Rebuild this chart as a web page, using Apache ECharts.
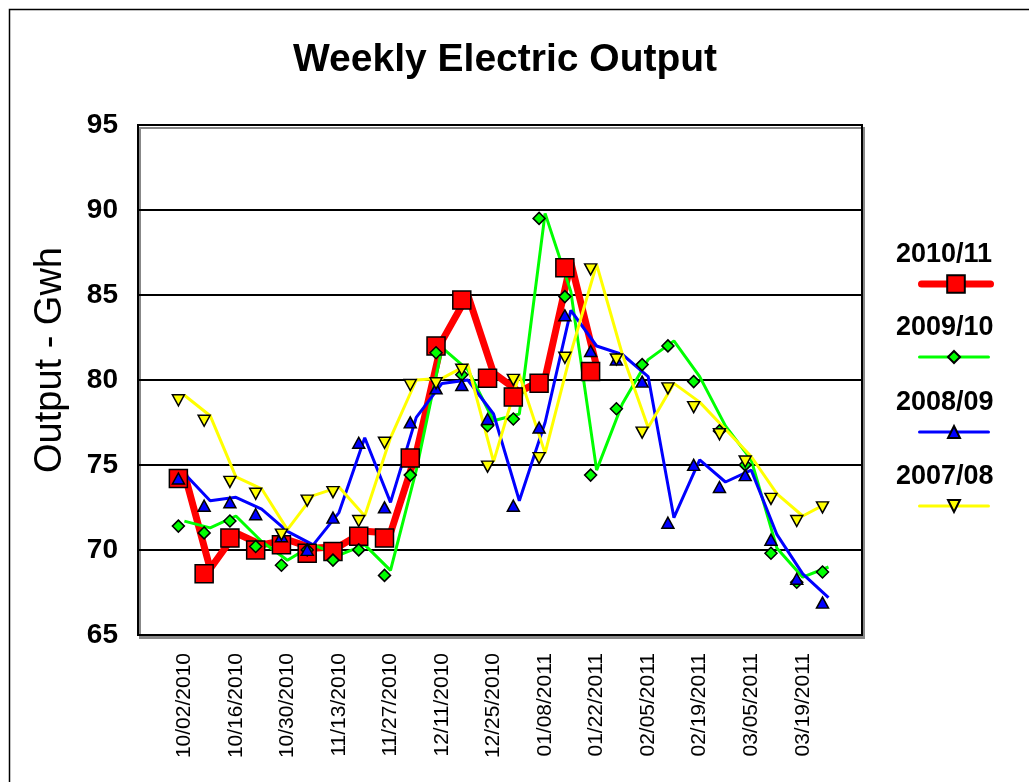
<!DOCTYPE html>
<html>
<head>
<meta charset="utf-8">
<title>Weekly Electric Output</title>
<script src="https://cdn.jsdelivr.net/npm/echarts@6/dist/echarts.min.js"></script>
<style>
	html, body { margin: 0; padding: 0; background: #fff; }
	#chart { width: 1029px; height: 782px; }
</style>
</head>
<body>
<div id="chart"></div>
<script>
	"use strict";

	// ______________ DATA
	var weeks = ['10/02/2010', '10/09/2010', '10/16/2010', '10/23/2010', '10/30/2010', '11/06/2010', '11/13/2010',
		'11/20/2010', '11/27/2010', '12/04/2010', '12/11/2010', '12/18/2010', '12/25/2010', '01/01/2011',
		'01/08/2011', '01/15/2011', '01/22/2011', '01/29/2011', '02/05/2011', '02/12/2011', '02/19/2011',
		'02/26/2011', '03/05/2011', '03/12/2011', '03/19/2011', '03/26/2011'];
	var labelWeeks = [0, 2, 4, 6, 8, 10, 12, 14, 16, 18, 20, 22, 24];

	var y2010 = [74.5, 68.9, 71.0, 70.3, 70.6, 70.1, 70.2, 71.1, 71.0, 75.7, 82.3, 85.0, 80.4, 79.3, 80.1, 86.9, 80.8,
		null, null, null, null, null, null, null, null, null];
	var y2009 = [71.7, 71.3, 72.0, 70.5, 69.4, 70.3, 69.7, 70.3, 68.8, 74.7, 81.9, 80.6, 77.6, 78.0, 89.8, 85.2, 74.7,
		78.6, 81.2, 82.3, 80.2, 77.3, 75.3, 70.1, 68.4, 69.0];
	var y2008 = [74.5, 72.9, 73.1, 72.4, 71.1, 70.3, 72.2, 76.6, 72.8, 77.8, 79.8, 80.0, 78.0, 72.9, 77.5, 84.1, 82.0,
		81.5, 80.2, 71.9, 75.3, 74.0, 74.7, 70.9, 68.6, 67.2];
	var y2007 = [79.1, 77.9, 74.3, 73.6, 71.2, 73.2, 73.7, 72.0, 76.6, 80.0, 80.1, 80.9, 75.2, 80.3, 75.7, 81.6, 86.8,
		81.5, 77.2, 79.8, 78.7, 77.1, 75.5, 73.3, 72.0, 72.8];

	var yTicks = [65, 70, 75, 80, 85, 90, 95];

	function pairs(arr) {
		return arr.map(function(v, i) { return [i, v]; });
	}

	var FONT = 'Liberation Sans, Arial, sans-serif';
	var MARK_SHIFT = [-6, 5]; // excel draws the markers a bit off the line

	function lineSeries(name, values, color, width, symbol, size, rotate) {
		return {
			name: name,
			type: 'line',
			data: pairs(values),
			symbol: symbol,
			symbolSize: size,
			symbolRotate: rotate || 0,
			symbolOffset: MARK_SHIFT,
			showAllSymbol: true,
			connectNulls: false,
			lineStyle: { color: color, width: width },
			itemStyle: { color: color, borderColor: '#000', borderWidth: 1.5 },
			emphasis: { disabled: true },
			animation: false
		};
	}

	// ______________ LEGEND (one per entry, text above the icon)
	var legendRows = [
		{ name: '2010/11', lineY: 284, h: 22, w: 7 },
		{ name: '2009/10', lineY: 357, h: 15, w: 3 },
		{ name: '2008/09', lineY: 432, h: 15, w: 3 },
		{ name: '2007/08', lineY: 506, h: 15, w: 3 }
	];
	var legends = legendRows.map(function(r) {
		return {
			data: [r.name],
			left: 918,
			top: r.lineY - r.h / 2,
			padding: 0,
			itemWidth: 69,
			itemHeight: r.h,
			selectedMode: false,
			lineStyle: { width: r.w, cap: 'round' },
			formatter: function() { return ''; },
			textStyle: { fontSize: 1 }
		};
	});
	var legendTexts = legendRows.map(function(r) {
		return {
			type: 'text',
			left: 946 - 50,
			top: r.lineY - 43,
			style: {
				text: r.name,
				width: 100,
				align: 'center',
				font: 'bold 27px ' + FONT,
				fill: '#000'
			}
		};
	});

	var chart = echarts.init(document.getElementById('chart'), null, { renderer: 'canvas' });
	chart.setOption({
		backgroundColor: '#fff',
		animation: false,
		title: {
			text: 'Weekly Electric Output',
			left: 288,
			top: 36,
			textStyle: { fontFamily: FONT, fontWeight: 'bold', fontSize: 39, color: '#000' }
		},
		legend: legends,
		graphic: [{
			type: 'rect',
			left: 7,
			top: 7,
			shape: { width: 1100, height: 900 },
			style: { fill: 'none', stroke: '#000', lineWidth: 1.5 },
			silent: true
		}].concat(legendTexts),
		grid: {
			left: 138,
			top: 125,
			right: 167,
			bottom: 147,
			show: true,
			backgroundColor: '#fff',
			borderColor: '#000',
			borderWidth: 2,
			shadowColor: '#888',
			shadowOffsetX: 2,
			shadowOffsetY: 3
		},
		xAxis: {
			type: 'value',
			min: -1.8,
			max: 26.3,
			axisLine: { show: false },
			axisTick: { show: false },
			splitLine: { show: false },
			axisLabel: {
				customValues: labelWeeks,
				rotate: 90,
				margin: 18,
				fontFamily: FONT,
				fontSize: 21,
				color: '#000',
				formatter: function(v) { return weeks[Math.round(v)]; }
			}
		},
		yAxis: {
			type: 'value',
			min: yTicks[0],
			max: yTicks[yTicks.length - 1],
			interval: 5,
			name: 'Output - Gwh',
			nameLocation: 'middle',
			nameGap: 68,
			nameTextStyle: { fontFamily: FONT, fontSize: 38, color: '#000', padding: [0, 0, 0, 40] },
			axisLine: { show: false },
			axisTick: { show: false },
			splitLine: { lineStyle: { color: '#000', width: 2 } },
			axisLabel: {
				margin: 20,
				fontFamily: FONT,
				fontWeight: 'bold',
				fontSize: 28,
				color: '#000'
			}
		},
		series: [
			lineSeries('2010/11', y2010, '#ff0000', 7, 'rect', 18),
			lineSeries('2009/10', y2009, '#00ff00', 3, 'diamond', 12),
			lineSeries('2008/09', y2008, '#0000ff', 3, 'triangle', [12, 11]),
			lineSeries('2007/08', y2007, '#ffff00', 3, 'triangle', [12, 11], 180)
		]
	});
</script>
</body>
</html>
